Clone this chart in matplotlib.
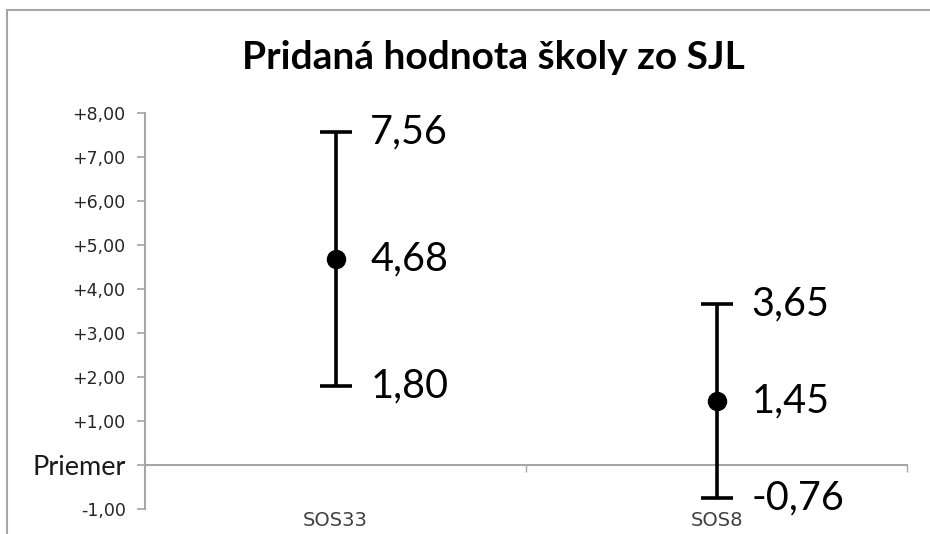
import matplotlib.pyplot as plt
from matplotlib.patches import Rectangle

# schools and their value-added (mean with lower / upper bound)
schools = ["SOS33", "SOS8"]
mean = [4.68, 1.45]
lower = [1.80, -0.76]
upper = [7.56, 3.65]
yticks = [-1, 0, 1, 2, 3, 4, 5, 6, 7, 8]


def fmt(v):
    return ("%.2f" % v).replace(".", ",")


def tick_label(v):
    if v == 0:
        return "Priemer"
    if v > 0:
        return "+" + fmt(v)
    return fmt(v)


fig = plt.figure(figsize=(9.3, 5.34), dpi=100)
ax = fig.add_axes([145 / 930, 1 - 509 / 534, (907 - 145) / 930, (509 - 113) / 534])

# outer chart frame
fig.patches.append(Rectangle((7 / 930, -0.1), 1.2, 1 - 10 / 534 + 0.1,
                             transform=fig.transFigure, fill=False,
                             edgecolor="#a6a6a6", linewidth=1.5))

x = list(range(len(schools)))
yerr = [[m - l for m, l in zip(mean, lower)], [u - m for m, u in zip(mean, upper)]]
ax.errorbar(x, mean, yerr=yerr, fmt="o", color="black", markersize=13,
            elinewidth=2.6, capsize=11.5, capthick=2.6, zorder=3)

for i in x:
    for v in (lower[i], mean[i], upper[i]):
        ax.annotate(fmt(v), (i, v), xytext=(25, 0), textcoords="offset points",
                    ha="left", va="center", fontsize=28.5, family="Lato", color="black")
    ax.text(i, -0.028, schools[i], transform=ax.get_xaxis_transform(),
            ha="center", va="center", fontsize=14, family="DejaVu Sans", color="#404040")

ax.set_xlim(-0.5, 1.5)
ax.set_ylim(-1, 8)

# category axis crosses at the average
for s in ["top", "right"]:
    ax.spines[s].set_visible(False)
ax.spines["bottom"].set_position(("data", 0))
ax.spines["bottom"].set_color("#a6a6a6")
ax.spines["bottom"].set_linewidth(1.5)
ax.spines["left"].set_color("#a6a6a6")
ax.spines["left"].set_linewidth(1.5)
ax.set_xticks([0.5, 1.5])
ax.set_xticklabels([])
ax.tick_params(axis="x", direction="out", length=5, width=1, color="#a6a6a6")

ax.set_yticks(yticks)
ax.set_yticklabels([tick_label(v) for v in yticks])
ax.tick_params(axis="y", direction="out", length=6, width=1.2, color="#a6a6a6", pad=8)
for lbl, v in zip(ax.get_yticklabels(), yticks):
    if v == 0:
        lbl.set_fontsize(19.5)
        lbl.set_family("Lato")
        lbl.set_color("#1a1a1a")
    else:
        lbl.set_fontsize(12.5)
        lbl.set_family("DejaVu Sans")
        lbl.set_color("#262626")

fig.text(493 / 930, 1 - 69 / 534, "Pridaná hodnota školy zo SJL", ha="center",
         va="baseline", fontsize=28, fontweight="bold", family="Lato", color="black")

fig.savefig("out.png", dpi=100)
